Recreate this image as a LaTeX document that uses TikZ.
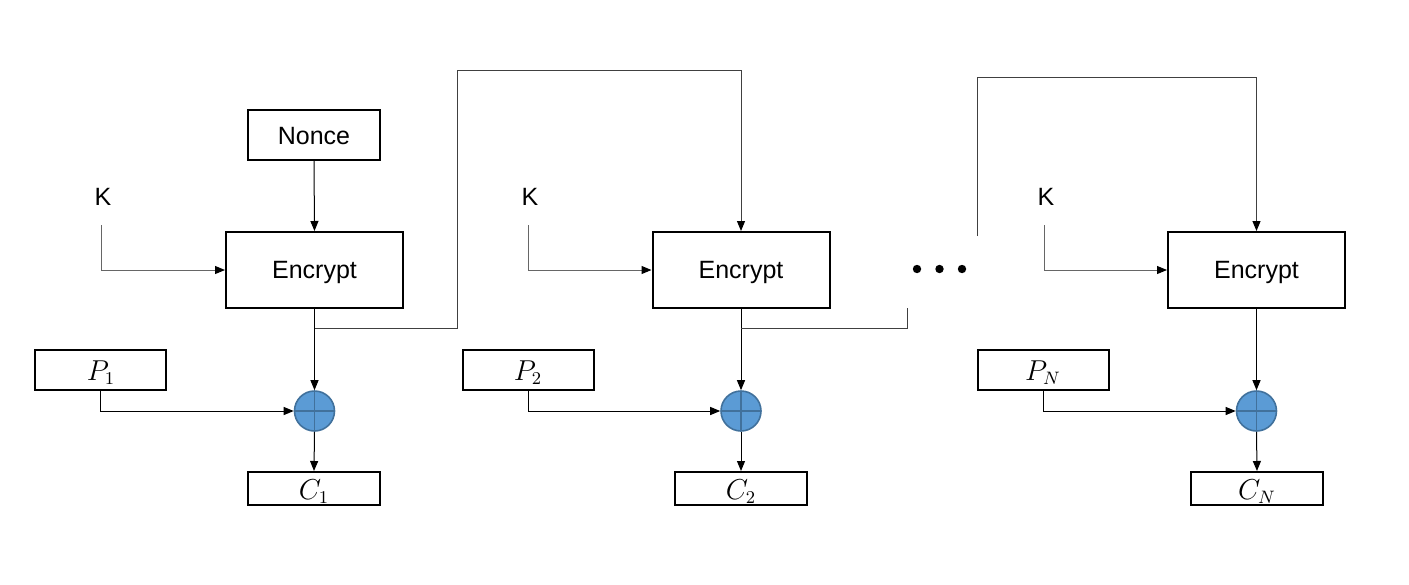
\documentclass[tikz,border=0pt]{standalone}
\usepackage{fontspec}
\setmainfont{Liberation Sans}
\usetikzlibrary{arrows.meta}
\definecolor{xorfill}{HTML}{5B9BD5}
\definecolor{xorline}{HTML}{41719C}
\tikzset{
  box/.style={draw=black,line width=1pt,inner sep=0pt,font=\fontsize{12.5pt}{14pt}\selectfont},
  encbox/.style={box,minimum width=88.5pt,minimum height=38pt},
  noncebox/.style={box,minimum width=66pt,minimum height=25pt},
  pbox/.style={box,minimum width=65.5pt,minimum height=20pt},
  cbox/.style={box,minimum width=66pt,minimum height=16.5pt},
  boxtext/.style={inner sep=0pt,font=\fontsize{12.5pt}{14pt}\selectfont},
  mathlbl/.style={inner sep=0pt,anchor=base,font=\fontsize{13.5pt}{15pt}\selectfont},
  klbl/.style={inner sep=0pt,font=\fontsize{12.5pt}{14pt}\selectfont},
  xor/.style={circle,fill=xorfill,draw=xorline,line width=0.8pt,minimum size=20pt,inner sep=0pt,
    path picture={\draw[xorline,line width=0.9pt] (path picture bounding box.north) -- (path picture bounding box.south)
      (path picture bounding box.west) -- (path picture bounding box.east);}},
  conn/.style={line width=0.5pt,black,-{Triangle[length=5pt,width=4pt,color=black]}},
  kconn/.style={conn,draw=black!60},
  wire/.style={line width=0.5pt,black!75},
  dot/.style={circle,fill=black,inner sep=0pt,minimum size=4.2pt}
}
\begin{document}
\begin{tikzpicture}[x=0.5pt,y=-0.5pt]
\useasboundingbox (0,0) rectangle (1409,584);
% stage 1
\node[noncebox] (nonce) at (314,135) {};
\node[boxtext] (noncet) at (314,136.5) {Nonce};
\node[encbox] (enc1) at (314.5,270) {};
\node[boxtext] (enc1t) at (314.5,272) {Encrypt};
\node[klbl] (k1) at (103,197) {K};
\coordinate (k1a) at (101,225);
\node[pbox] (p1) at (100.5,370) {};
\node[mathlbl] (p1t) at (101,380) {$P_1$};
\node[xor] (x1) at (314.5,411) {};
\node[cbox] (c1) at (314,488.5) {};
\node[mathlbl] (c1t) at (314,499) {$C_1$};
% stage 2
\node[encbox] (enc2) at (741,270) {};
\node[boxtext] (enc2t) at (741,272) {Encrypt};
\node[klbl] (k2) at (530,197) {K};
\coordinate (k2a) at (528,225);
\node[pbox] (p2) at (528,370) {};
\node[mathlbl] (p2t) at (528,380) {$P_2$};
\node[xor] (x2) at (741,411) {};
\node[cbox] (c2) at (741,488.5) {};
\node[mathlbl] (c2t) at (741,499) {$C_2$};
% stage N
\node[encbox] (enc3) at (1256.5,270) {};
\node[boxtext] (enc3t) at (1256.5,272) {Encrypt};
\node[klbl] (k3) at (1046,197) {K};
\coordinate (k3a) at (1044,225);
\node[pbox] (p3) at (1043,370) {};
\node[mathlbl] (p3t) at (1043,380) {$P_N$};
\node[xor] (x3) at (1256.5,411) {};
\node[cbox] (c3) at (1257,488.5) {};
\node[mathlbl] (c3t) at (1257,499) {$C_N$};
% dots
\node[dot] (d1) at (917,269) {};
\node[dot] (d2) at (939.5,269) {};
\node[dot] (d3) at (962,269) {};
% branch coordinates
\coordinate (b1) at (314.5,328);
\coordinate (t1) at (457,70);
\coordinate (b2) at (741,328);
\coordinate (e2) at (907,308);
\coordinate (s3) at (977,236);
\coordinate (t3) at (977,77);
% connectors stage 1
\draw[conn] (nonce.south) -- (enc1.north);
\draw[kconn] (k1a) |- (enc1.west);
\draw[conn] (enc1.south) -- (x1.north);
\draw[conn] (p1.south) |- (x1.west);
\draw[conn] (x1.south) -- (c1.north);
% stage 2
\draw[kconn] (k2a) |- (enc2.west);
\draw[conn] (enc2.south) -- (x2.north);
\draw[conn] (p2.south) |- (x2.west);
\draw[conn] (x2.south) -- (c2.north);
% stage N
\draw[kconn] (k3a) |- (enc3.west);
\draw[conn] (enc3.south) -- (x3.north);
\draw[conn] (p3.south) |- (x3.west);
\draw[conn] (x3.south) -- (c3.north);
% counter chains
\draw[wire] (b1) -| (t1);
\draw[conn,draw=black!75] (t1) -| (enc2.north);
\draw[wire] (b2) -| (e2);
\draw[wire] (s3) -- (t3);
\draw[conn,draw=black!75] (t3) -| (enc3.north);
\end{tikzpicture}
\end{document}
